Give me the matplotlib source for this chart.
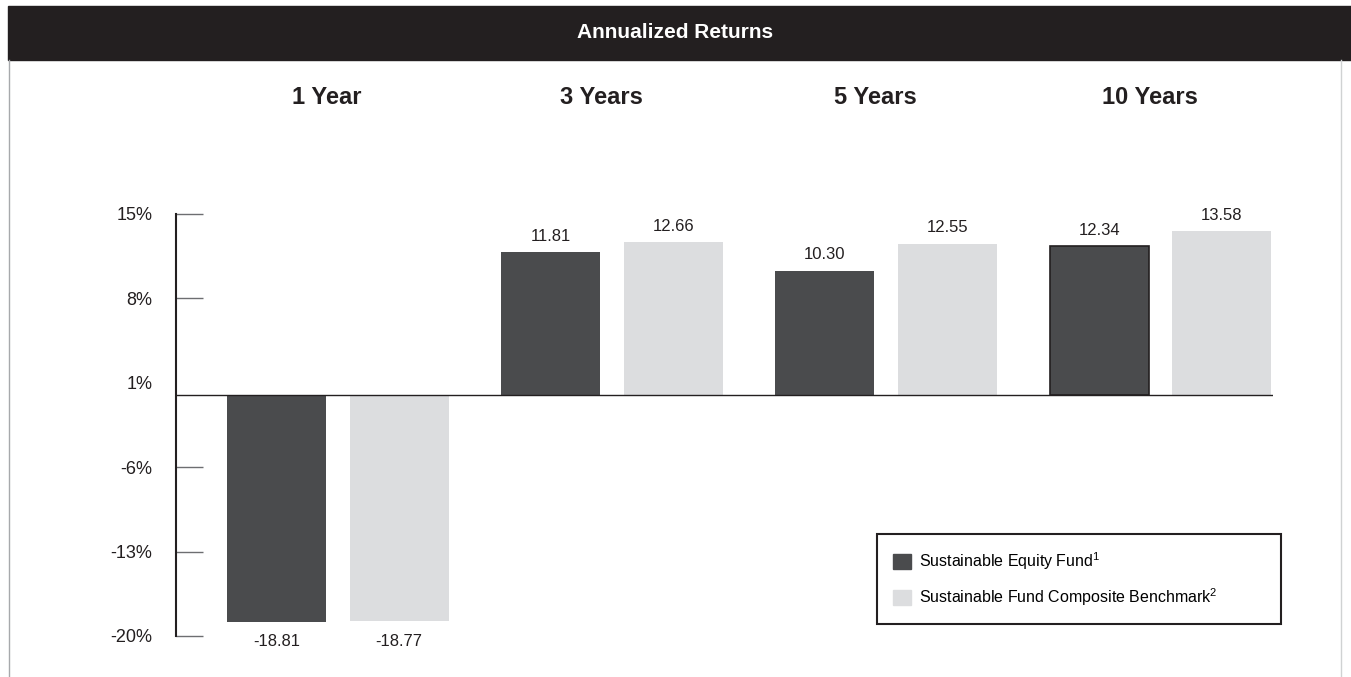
import matplotlib.pyplot as plt
import matplotlib.patches as mpatches
import matplotlib.transforms as mtransforms
import numpy as np

periods = ["1 Year", "3 Years", "5 Years", "10 Years"]
fund = [-18.81, 11.81, 10.30, 12.34]
bench = [-18.77, 12.66, 12.55, 13.58]
yticks = [15, 8, 1, -6, -13, -20]
ytick_labels = ["15%", "8%", "1%", "-6%", "-13%", "-20%"]
series_names = ["Sustainable Equity Fund$^{1}$",
                "Sustainable Fund Composite Benchmark$^{2}$"]

dark = "#4a4b4d"
light = "#dcdddf"
ink = "#231f20"
narrow = ["Liberation Sans Narrow", "Liberation Sans", "DejaVu Sans"]

plt.rcParams["font.family"] = ["Liberation Sans", "DejaVu Sans"]
plt.rcParams["mathtext.fontset"] = "custom"
plt.rcParams["mathtext.rm"] = "Liberation Sans"
plt.rcParams["mathtext.it"] = "Liberation Sans"

W, H = 1351, 677
fig = plt.figure(figsize=(W / 100, H / 100), dpi=100)

# title bar and frame
fig.patches.append(mpatches.Rectangle((8 / W, 1 - 60 / H), 1 - 8 / W, 54 / H,
                                      transform=fig.transFigure, color=ink, zorder=0))
fig.text(675 / W, 1 - 33 / H, "Annualized Returns", color="white", fontsize=15,
         fontweight="bold", ha="center", va="center")
fig.add_artist(plt.Line2D([8.5 / W, 8.5 / W], [0, 1 - 60 / H], color="#a7a9ac", lw=1))
fig.add_artist(plt.Line2D([1341 / W, 1341 / W], [0, 1 - 60 / H], color="#d0d2d3", lw=1))

ax = fig.add_axes([176 / W, 1 - 636 / H, 1097 / W, 422 / H])
x = np.arange(len(periods))
bw = 0.361
off = 0.224
b1 = ax.bar(x - off, fund, bw, color=dark, zorder=2)
b2 = ax.bar(x + off, bench, bw, color=light, zorder=2)
b1[3].set_edgecolor(ink)
b1[3].set_linewidth(1.2)

for bars, vals in ((b1, fund), (b2, bench)):
    for r, v in zip(bars, vals):
        cx = r.get_x() + r.get_width() / 2
        if v >= 0:
            ax.annotate(f"{v:.2f}", (cx, v), xytext=(0, 6), textcoords="offset points",
                        ha="center", va="bottom", fontsize=12, family=narrow, color=ink)
        else:
            ax.annotate(f"{v:.2f}", (cx, v), xytext=(0, -9), textcoords="offset points",
                        ha="center", va="top", fontsize=12, family=narrow, color=ink)

ax.axhline(0, color=ink, lw=1, zorder=3)
ax.set_xlim(-0.59, 3.41)
ax.set_ylim(-20, 15)
ax.set_xticks([])
ax.set_yticks(yticks)
ax.set_yticklabels(ytick_labels)
ax.tick_params(axis="y", direction="in", length=19.5, width=1, color="#6d6e71",
               pad=17, labelsize=13, labelcolor=ink)
ax.yaxis.get_major_ticks()[2].tick1line.set_visible(False)
for s in ("top", "right", "bottom"):
    ax.spines[s].set_visible(False)
ax.spines["left"].set_color(ink)
ax.spines["left"].set_linewidth(1.5)

# period headers
trans = mtransforms.blended_transform_factory(ax.transData, fig.transFigure)
for i, p in enumerate(periods):
    ax.text(i - 0.04, 1 - 98 / H, p, transform=trans, ha="center", va="center",
            fontsize=17, fontweight="bold", color=ink)

handles = [mpatches.Patch(color=dark), mpatches.Patch(color=light)]
leg = ax.legend(handles, series_names, loc="upper left",
                bbox_to_anchor=(877 / W, 1 - 621 / H, 404 / W, 87 / H),
                bbox_transform=fig.transFigure, mode="expand", fancybox=False,
                edgecolor=ink, framealpha=1, prop={"family": narrow, "size": 11.5},
                handlelength=1.1, handleheight=1.1, handletextpad=0.5,
                labelspacing=0.9, borderpad=1.0, borderaxespad=0)
leg.get_frame().set_linewidth(1.5)

fig.savefig("out.png", dpi=100)
